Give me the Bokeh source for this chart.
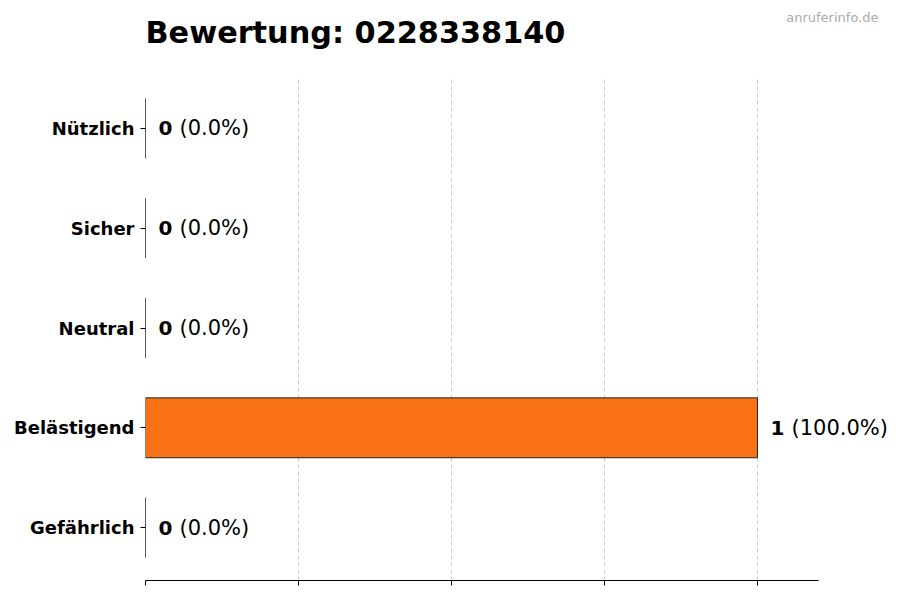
from bokeh.plotting import figure
from bokeh.models import ColumnDataSource, Range1d, FixedTicker, Label
from bokeh.core.properties import value
from bokeh.embed import file_html
from bokeh.resources import INLINE

# rating categories, top to bottom
categories = ["Nützlich", "Sicher", "Neutral", "Belästigend", "Gefährlich"]
counts = [0, 0, 0, 1, 0]
x_ticks = [0, 0.25, 0.5, 0.75, 1.0]

total = sum(counts)
ypos = list(range(len(categories) - 1, -1, -1))
pct = ["(%.1f%%)" % (100.0 * c / total if total else 0) for c in counts]

source = ColumnDataSource(data=dict(
    y=ypos,
    count=counts,
    num=[str(c) for c in counts],
    pct=pct,
))

FONT = "DejaVu Sans"

# frame runs past the axis end so the value labels are not clipped
p = figure(width=896, height=592, output_backend="svg", toolbar_location=None,
           x_range=Range1d(0, 1.2239), y_range=Range1d(-0.53, 4.52),
           min_border_left=145, min_border_right=2, min_border_top=76,
           min_border_bottom=12, outline_line_color=None)

p.title.text = "Bewertung: 0228338140"
p.title.text_font = FONT
p.title.text_font_size = "30.3px"
p.title.text_font_style = "bold"
p.title.text_color = "black"
p.title.standoff = 24

# watermark, kept in the top panel so it is not clipped to the frame
p.add_layout(Label(x=878, y=17, x_units="canvas", y_units="canvas",
                   text="anruferinfo.de", text_align="right",
                   text_baseline="middle", text_font=FONT,
                   text_font_size="13px", text_color="#aaaaaa"), "above")

p.hbar(y="y", left=0, right="count", height=0.6, source=source,
       fill_color="#f97316", line_color="#222222", line_width=1)

p.text(x="count", y="y", text="num", source=source, x_offset=13,
       text_font=value(FONT), text_font_size="20px", text_font_style="bold",
       text_baseline="middle", text_color="black")
p.text(x="count", y="y", text="pct", source=source, x_offset=34,
       text_font=value(FONT), text_font_size="21px",
       text_baseline="middle", text_color="black")

# axes
p.yaxis.ticker = FixedTicker(ticks=ypos)
p.yaxis.major_label_overrides = {y: c for y, c in zip(ypos, categories)}
p.yaxis.axis_line_color = None
p.yaxis.major_tick_in = 0
p.yaxis.major_tick_out = 5
p.yaxis.minor_tick_line_color = None
p.yaxis.major_label_text_font = FONT
p.yaxis.major_label_text_font_size = "18px"
p.yaxis.major_label_text_font_style = "bold"
p.yaxis.major_label_text_color = "black"
p.yaxis.major_label_standoff = 6

p.xaxis.ticker = FixedTicker(ticks=x_ticks)
p.xaxis.bounds = (0, 1.1)
p.xaxis.major_label_overrides = {t: "" for t in x_ticks}
p.xaxis.major_label_text_font_size = "1px"
p.xaxis.major_tick_in = 0
p.xaxis.major_tick_out = 5
p.xaxis.minor_tick_line_color = None
p.xaxis.axis_line_color = "black"

p.ygrid.grid_line_color = None
p.xgrid.ticker = FixedTicker(ticks=x_ticks)
p.xgrid.grid_line_color = "#cccccc"
p.xgrid.grid_line_dash = "4 3"

open("out.html", "w").write(file_html(p, INLINE))
